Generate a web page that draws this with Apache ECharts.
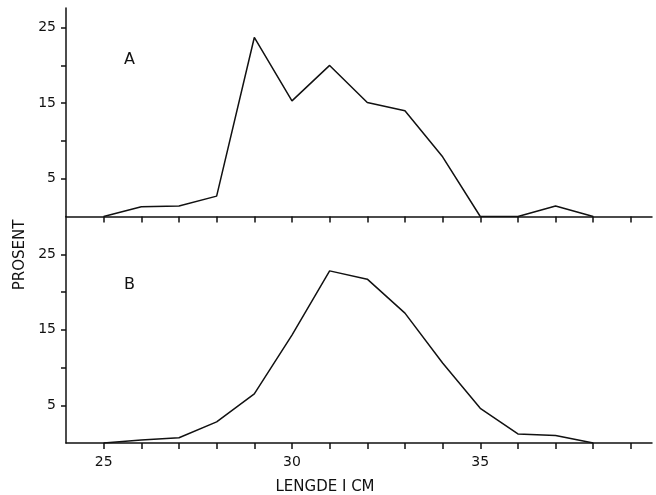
<!DOCTYPE html>
<html>
<head>
<meta charset="utf-8">
<script src="https://cdn.jsdelivr.net/npm/echarts@6/dist/echarts.min.js"></script>
<style>html,body{margin:0;padding:0;background:#fff}#c{width:656px;height:495px}</style>
</head>
<body>
<div id="c"></div>
<script>
const lengths = [25, 26, 27, 28, 29, 30, 31, 32, 33, 34, 35, 36, 37, 38];
const panelA = [0, 1.3, 1.4, 2.7, 23.7, 15.3, 20.0, 15.1, 14.0, 7.9, 0, 0, 1.4, 0];
const panelB = [0, 0.4, 0.7, 2.8, 6.5, 14.3, 22.8, 21.7, 17.2, 10.6, 4.6, 1.2, 1.0, 0];
const xTicks = [25, 26, 27, 28, 29, 30, 31, 32, 33, 34, 35, 36, 37, 38, 39];
const xLabels = [25, 30, 35];
const yTicks = [5, 10, 15, 20, 25];
const yLabels = [5, 15, 25];
const panelNames = ['A', 'B'];
const xName = 'LENGDE I CM';
const yName = 'PROSENT';

const FONT = 'DejaVu Sans';
const ink = '#111';
const chart = echarts.init(document.getElementById('c'), null, {renderer: 'canvas'});

function xAxis(gridIndex, showLabels) {
  return {
    type: 'value', gridIndex, min: 24, max: 39.56,
    axisLine: {lineStyle: {color: ink, width: 1.5}},
    axisTick: {customValues: xTicks, length: 6, lineStyle: {color: ink, width: 1.5}},
    axisLabel: showLabels ? {customValues: xLabels, color: ink, fontSize: 14, fontFamily: FONT, margin: 12} : {show: false},
    splitLine: {show: false}
  };
}
function yAxis(gridIndex, max) {
  return {
    type: 'value', gridIndex, min: 0, max,
    axisLine: {show: true, lineStyle: {color: ink, width: 1.5}},
    axisTick: {show: true, customValues: yTicks, length: 5, lineStyle: {color: ink, width: 1.5}},
    axisLabel: {customValues: yLabels, color: ink, fontSize: 14, fontFamily: FONT, margin: 10},
    splitLine: {show: false}
  };
}
function pairs(vals) { return lengths.map((x, i) => [x, vals[i]]); }

chart.setOption({
  animation: false,
  backgroundColor: '#fff',
  grid: [
    {left: 66, top: 8, width: 586, height: 208.5},
    {left: 66, top: 216.5, width: 586, height: 226.5}
  ],
  xAxis: [xAxis(0, false), xAxis(1, true)],
  yAxis: [yAxis(0, 27.6), yAxis(1, 30)],
  series: [
    {type: 'line', xAxisIndex: 0, yAxisIndex: 0, data: pairs(panelA), showSymbol: false, lineStyle: {color: ink, width: 1.5}},
    {type: 'line', xAxisIndex: 1, yAxisIndex: 1, data: pairs(panelB), showSymbol: false, lineStyle: {color: ink, width: 1.5}}
  ],
  graphic: [
    {type: 'text', left: 124, top: 52, style: {text: panelNames[0], fill: ink, font: '16px "DejaVu Sans"'}},
    {type: 'text', left: 124, top: 277, style: {text: panelNames[1], fill: ink, font: '16px "DejaVu Sans"'}},
    {type: 'text', x: 20, y: 255, rotation: Math.PI / 2, style: {text: yName, fill: ink, font: '15px "DejaVu Sans"', align: 'center', verticalAlign: 'middle'}},
    {type: 'text', x: 325, y: 487, style: {text: xName, fill: ink, font: '15px "DejaVu Sans"', align: 'center', verticalAlign: 'middle'}}
  ]
});
</script>
</body>
</html>
